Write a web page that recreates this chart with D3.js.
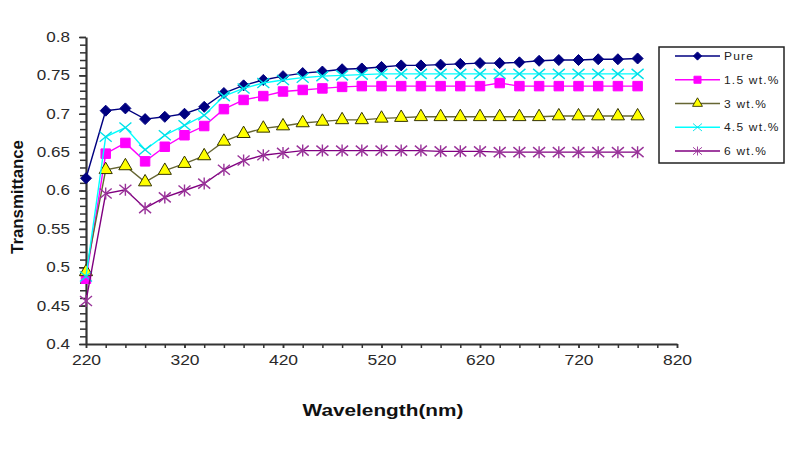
<!DOCTYPE html>
<html>
<head>
<meta charset="utf-8">
<script src="https://cdn.jsdelivr.net/npm/d3@7"></script>
<style>
  body { margin: 0; background: #fff; }
  svg { font-family: "Liberation Sans", Arial, sans-serif; }
</style>
</head>
<body>
<svg id="chart" width="794" height="464"></svg>
<script>
// wavelengths (nm)
var wavelengths = [220, 240, 260, 280, 300, 320, 340, 360, 380, 400, 420, 440, 460, 480, 500,
  520, 540, 560, 580, 600, 620, 640, 660, 680, 700, 720, 740, 760, 780];

var pure = [0.616, 0.704, 0.707, 0.693, 0.696, 0.700, 0.709, 0.727, 0.737, 0.744, 0.749, 0.753, 0.755, 0.758, 0.759,
  0.761, 0.763, 0.763, 0.764, 0.765, 0.766, 0.766, 0.767, 0.769, 0.770, 0.770, 0.771, 0.771, 0.772];
var wt15 = [0.485, 0.648, 0.662, 0.638, 0.657, 0.672, 0.684, 0.706, 0.718, 0.723, 0.729, 0.731, 0.733, 0.735, 0.736,
  0.736, 0.736, 0.736, 0.736, 0.736, 0.736, 0.740, 0.736, 0.736, 0.736, 0.736, 0.736, 0.736, 0.736];
var wt3 = [0.494, 0.627, 0.632, 0.611, 0.626, 0.635, 0.645, 0.664, 0.674, 0.681, 0.684, 0.688, 0.690, 0.692, 0.692,
  0.694, 0.695, 0.696, 0.696, 0.696, 0.696, 0.696, 0.696, 0.696, 0.697, 0.697, 0.697, 0.697, 0.697];
var wt45 = [0.488, 0.670, 0.682, 0.653, 0.672, 0.685, 0.698, 0.723, 0.733, 0.740, 0.744, 0.747, 0.749, 0.750, 0.751,
  0.752, 0.752, 0.752, 0.752, 0.752, 0.752, 0.752, 0.752, 0.752, 0.752, 0.752, 0.752, 0.752, 0.752];
var wt6 = [0.456, 0.596, 0.601, 0.577, 0.591, 0.600, 0.609, 0.627, 0.639, 0.646, 0.649, 0.652, 0.652, 0.652, 0.652,
  0.652, 0.652, 0.652, 0.651, 0.651, 0.651, 0.650, 0.650, 0.650, 0.650, 0.650, 0.650, 0.650, 0.650];

var seriesNames = ['Pure', '1.5 wt.%', '3 wt.%', '4.5 wt.%', '6 wt.%'];
var xTicks = [220, 320, 420, 520, 620, 720, 820];
var yTicks = [0.4, 0.45, 0.5, 0.55, 0.6, 0.65, 0.7, 0.75, 0.8];

var series = [
  { name: seriesNames[0], values: pure, line: '#000080', fill: '#000080', stroke: '#000080', marker: 'diamond' },
  { name: seriesNames[1], values: wt15, line: '#ff00ff', fill: '#ff00ff', stroke: '#ff00ff', marker: 'square' },
  { name: seriesNames[2], values: wt3, line: '#666633', fill: '#ffff00', stroke: '#333300', marker: 'triangle' },
  { name: seriesNames[3], values: wt45, line: '#00ffff', fill: 'none', stroke: '#00e0e8', marker: 'x' },
  { name: seriesNames[4], values: wt6, line: '#800080', fill: 'none', stroke: '#993399', marker: 'star' }
];

var svg = d3.select('#chart');
var pLeft = 86, pRight = 677, pTop = 37, pBottom = 344;

var x = d3.scaleLinear().domain([220, 820]).range([pLeft, pRight]);
var y = d3.scaleLinear().domain([0.4, 0.8]).range([pBottom, pTop]);

var axisColor = '#333';
var sx = 1.25; // reference text looks horizontally stretched

// minor ticks
svg.append('g')
  .attr('transform', 'translate(' + pLeft + ',0)')
  .call(d3.axisLeft(y).tickValues(d3.range(0.4, 0.8001, 0.01)).tickSize(6).tickFormat(''))
  .call(function(g) { g.select('.domain').remove(); g.selectAll('line').attr('stroke', axisColor).attr('stroke-width', 1.5); });
svg.append('g')
  .attr('transform', 'translate(0,' + pBottom + ')')
  .call(d3.axisBottom(x).tickValues(d3.range(220, 821, 20)).tickSize(4).tickFormat(''))
  .call(function(g) { g.select('.domain').remove(); g.selectAll('line').attr('stroke', axisColor).attr('stroke-width', 1.5); });

// major axes
var yAxis = svg.append('g')
  .attr('transform', 'translate(' + pLeft + ',0)')
  .call(d3.axisLeft(y).tickValues(yTicks).tickSize(7).tickSizeOuter(0).tickFormat(function(d) { return String(+d.toFixed(2)); }));
yAxis.select('.domain').attr('stroke', axisColor).attr('stroke-width', 2.2);
yAxis.selectAll('line').attr('stroke', axisColor).attr('stroke-width', 1.5);
yAxis.selectAll('text')
  .attr('font-size', 14).attr('fill', '#2a2a2a')
  .attr('x', -16 / 1.22)
  .attr('transform', 'scale(1.22,1)');

var xAxis = svg.append('g')
  .attr('transform', 'translate(0,' + pBottom + ')')
  .call(d3.axisBottom(x).tickValues(xTicks).tickSize(4).tickSizeOuter(0));
xAxis.select('.domain').attr('stroke', axisColor).attr('stroke-width', 2.2);
xAxis.selectAll('line').attr('stroke', axisColor).attr('stroke-width', 1.5);
xAxis.selectAll('text')
  .attr('font-size', 14).attr('fill', '#2a2a2a')
  .attr('y', 11)
  .attr('transform', 'scale(' + sx + ',1)');
svg.selectAll('g').attr('font-family', null);

// axis titles
svg.append('text')
  .attr('transform', 'translate(383,416) scale(1.3,1)')
  .attr('text-anchor', 'middle')
  .attr('font-size', 16).attr('font-weight', 'bold').attr('fill', '#111')
  .text('Wavelength(nm)');
svg.append('text')
  .attr('transform', 'translate(23,197) rotate(-90) scale(1.05,1)')
  .attr('text-anchor', 'middle')
  .attr('font-size', 16).attr('font-weight', 'bold').attr('fill', '#111')
  .text('Transmittance');

// markers
function markerPath(type) {
  if (type === 'diamond') return 'M0,-5.5L5.5,0L0,5.5L-5.5,0Z';
  if (type === 'square') return d3.symbol().type(d3.symbolSquare).size(90)();
  if (type === 'triangle') return d3.symbol().type(d3.symbolTriangle).size(75)();
  if (type === 'x') return 'M-6,-5L6,5M-6,5L6,-5';
  return 'M-6,-5L6,5M-6,5L6,-5M0,-6L0,6';
}

var line = d3.line()
  .x(function(d) { return x(d[0]); })
  .y(function(d) { return y(d[1]); });

var plot = svg.append('g');
series.forEach(function(s) {
  var pts = wavelengths.map(function(w, i) { return [w, s.values[i]]; });
  var g = plot.append('g');
  g.append('path')
    .datum(pts)
    .attr('d', line)
    .attr('fill', 'none')
    .attr('stroke', s.line)
    .attr('stroke-width', 1.4);
  g.selectAll('path.mk')
    .data(pts)
    .enter()
    .append('path')
    .attr('class', 'mk')
    .attr('d', markerPath(s.marker))
    .attr('transform', function(d) { return 'translate(' + x(d[0]) + ',' + y(d[1]) + ')'; })
    .attr('fill', s.fill)
    .attr('stroke', s.stroke)
    .attr('stroke-width', (s.marker === 'x' || s.marker === 'star') ? 1.4 : 1);
});

// legend
var legend = svg.append('g').attr('transform', 'translate(659,47)');
legend.append('rect')
  .attr('width', 125).attr('height', 116)
  .attr('fill', '#fff').attr('stroke', '#222').attr('stroke-width', 1.5);
var itemY = d3.scalePoint().domain(seriesNames).range([9, 104]);
series.forEach(function(s) {
  var gy = itemY(s.name);
  var it = legend.append('g').attr('transform', 'translate(0,' + gy + ')');
  it.append('line')
    .attr('x1', 16).attr('x2', 61).attr('y1', 0).attr('y2', 0)
    .attr('stroke', s.line).attr('stroke-width', 1.6);
  it.append('path')
    .attr('d', markerPath(s.marker))
    .attr('transform', 'translate(38.5,0) scale(0.75)')
    .attr('fill', s.fill).attr('stroke', s.stroke).attr('stroke-width', 1.2);
  it.append('text')
    .attr('transform', 'translate(65,4) scale(1.2,1)')
    .attr('font-size', 10).attr('fill', '#222').attr('letter-spacing', 1)
    .text(s.name);
});
</script>
</body>
</html>
